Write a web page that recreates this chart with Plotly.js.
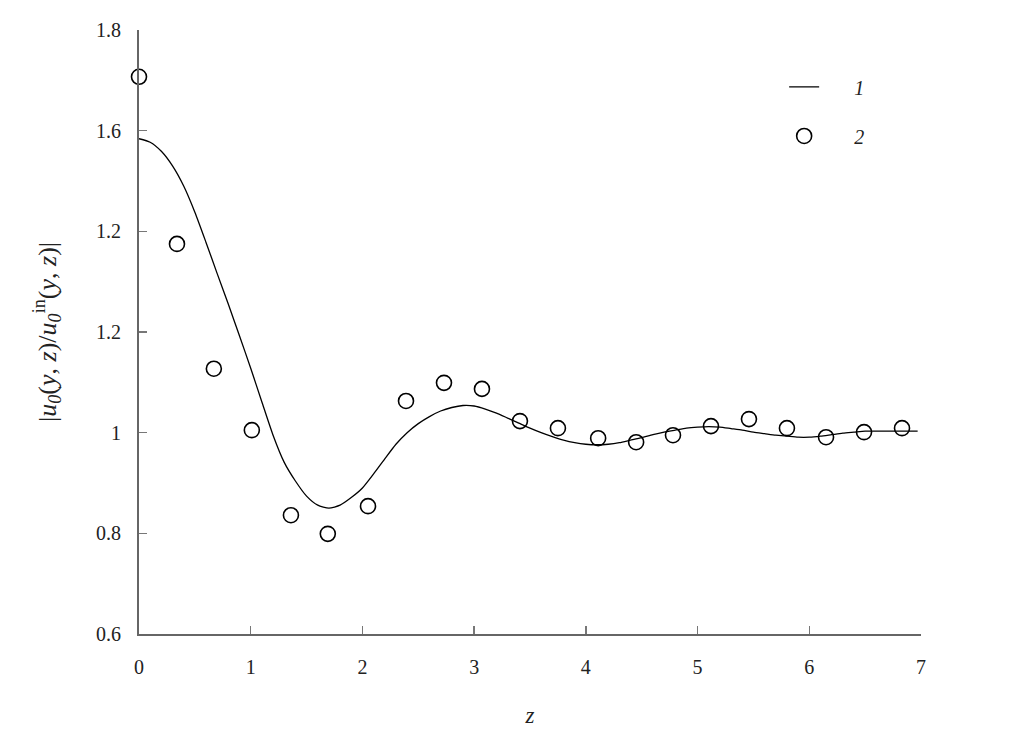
<!DOCTYPE html>
<html>
<head>
<meta charset="utf-8">
<script src="https://cdn.plot.ly/plotly-3.0.1.min.js"></script>
<style>html,body{margin:0;padding:0;background:#fff;}#chart{width:1010px;height:744px;}</style>
</head>
<body>
<div id="chart"></div>
<script>
// Curve 1 (theory)
const curveZ = [0, 0.1, 0.2, 0.3, 0.4, 0.5, 0.6, 0.7, 0.8, 0.9, 1.0, 1.1, 1.2, 1.3, 1.4, 1.5, 1.6, 1.7, 1.8, 1.9, 2.0,
  2.1, 2.2, 2.3, 2.4, 2.5, 2.6, 2.7, 2.8, 2.9, 3.0, 3.1, 3.2, 3.3, 3.4, 3.5, 3.6, 3.7, 3.8, 3.9, 4.0,
  4.1, 4.2, 4.3, 4.4, 4.5, 4.6, 4.7, 4.8, 4.9, 5.0, 5.1, 5.2, 5.3, 5.4, 5.5, 5.6, 5.7, 5.8, 5.9, 6.0,
  6.1, 6.2, 6.3, 6.4, 6.5, 6.6, 6.7, 6.8, 6.97];
const curveV = [1.584, 1.577, 1.559, 1.530, 1.490, 1.438, 1.378, 1.316, 1.255, 1.192, 1.128, 1.061, 0.995, 0.941, 0.904, 0.874, 0.856, 0.850, 0.856, 0.871, 0.890,
  0.918, 0.948, 0.977, 1.000, 1.018, 1.032, 1.043, 1.050, 1.054, 1.053, 1.047, 1.039, 1.029, 1.019, 1.009, 1.000, 0.992, 0.985, 0.980, 0.977,
  0.976, 0.977, 0.980, 0.985, 0.990, 0.996, 1.001, 1.005, 1.009, 1.011, 1.012, 1.011, 1.008, 1.005, 1.001, 0.998, 0.995, 0.993, 0.991, 0.991,
  0.993, 0.996, 0.999, 1.001, 1.003, 1.003, 1.003, 1.003, 1.003];

// Series 2 (points)
const pointZ = [0, 0.34, 0.67, 1.01, 1.36, 1.69, 2.05, 2.39, 2.73, 3.07, 3.41, 3.75, 4.11, 4.45, 4.78, 5.12, 5.46, 5.80, 6.15, 6.49, 6.83];
const pointV = [1.707, 1.375, 1.127, 1.005, 0.836, 0.799, 0.854, 1.063, 1.099, 1.087, 1.023, 1.009, 0.989, 0.981, 0.995, 1.013, 1.027, 1.009, 0.991, 1.001, 1.009];

const xTicks = [0, 1, 2, 3, 4, 5, 6, 7];
const xTickText = ['0', '1', '2', '3', '4', '5', '6', '7'];
const yTicks = [0.6, 0.8, 1.0, 1.2, 1.4, 1.6, 1.8];
const yTickText = ['0.6', '0.8', '1', '1.2', '1.2', '1.6', '1.8'];

const FONT = 'Liberation Serif';

const traces = [
  {
    x: curveZ, y: curveV, type: 'scatter', mode: 'lines',
    name: '\u00a0\u00a0\u00a0\u00a0\u00a0\u00a0<i>1</i>', legendgroup: 'a',
    line: {color: '#000', width: 1.3, shape: 'spline', smoothing: 0.6},
    cliponaxis: false
  },
  {
    x: pointZ, y: pointV, type: 'scatter', mode: 'markers',
    name: '\u00a0\u00a0\u00a0\u00a0\u00a0\u00a0<i>2</i>', legendgroup: 'b',
    marker: {symbol: 'circle-open', size: 15, color: '#000', line: {width: 1.6, color: '#000'}},
    cliponaxis: false
  }
];

const layout = {
  width: 1010, height: 744,
  margin: {l: 139, r: 89, t: 30, b: 110},
  paper_bgcolor: '#fff', plot_bgcolor: '#fff',
  font: {family: FONT, size: 18, color: '#222'},
  showlegend: true,
  legend: {
    x: 0.825, y: 0.938, xanchor: 'left', yanchor: 'top',
    bgcolor: 'rgba(0,0,0,0)', borderwidth: 0,
    font: {family: FONT, size: 20, color: '#222'},
    tracegroupgap: 20, traceorder: 'grouped'
  },
  xaxis: {
    range: [0, 7], tickvals: xTicks, ticktext: xTickText,
    showgrid: false, zeroline: false, showline: true,
    linecolor: '#666', linewidth: 2,
    ticks: 'inside', ticklen: 8, tickwidth: 1.5, tickcolor: '#777',
    ticklabelstandoff: 14,
    tickfont: {family: FONT, size: 20, color: '#222'},
    title: {text: '<i>z</i>', font: {family: FONT, size: 23, color: '#222'}, standoff: 30}
  },
  yaxis: {
    range: [0.6, 1.8], tickvals: yTicks, ticktext: yTickText,
    showgrid: false, zeroline: false, showline: true,
    linecolor: '#666', linewidth: 2,
    ticks: 'inside', ticklen: 8, tickwidth: 1.5, tickcolor: '#777',
    ticklabelstandoff: 12,
    tickfont: {family: FONT, size: 20, color: '#222'},
    title: {text: '|<i>u</i><sub><i>0</i></sub>(<i>y</i>, <i>z</i>)/<i>u</i><sub><i>0</i></sub><sup>in</sup>(<i>y</i>, <i>z</i>)|',
            font: {family: FONT, size: 26, color: '#222'}, standoff: 32}
  }
};

Plotly.newPlot('chart', traces, layout, {displayModeBar: false, staticPlot: true});
</script>
</body>
</html>
